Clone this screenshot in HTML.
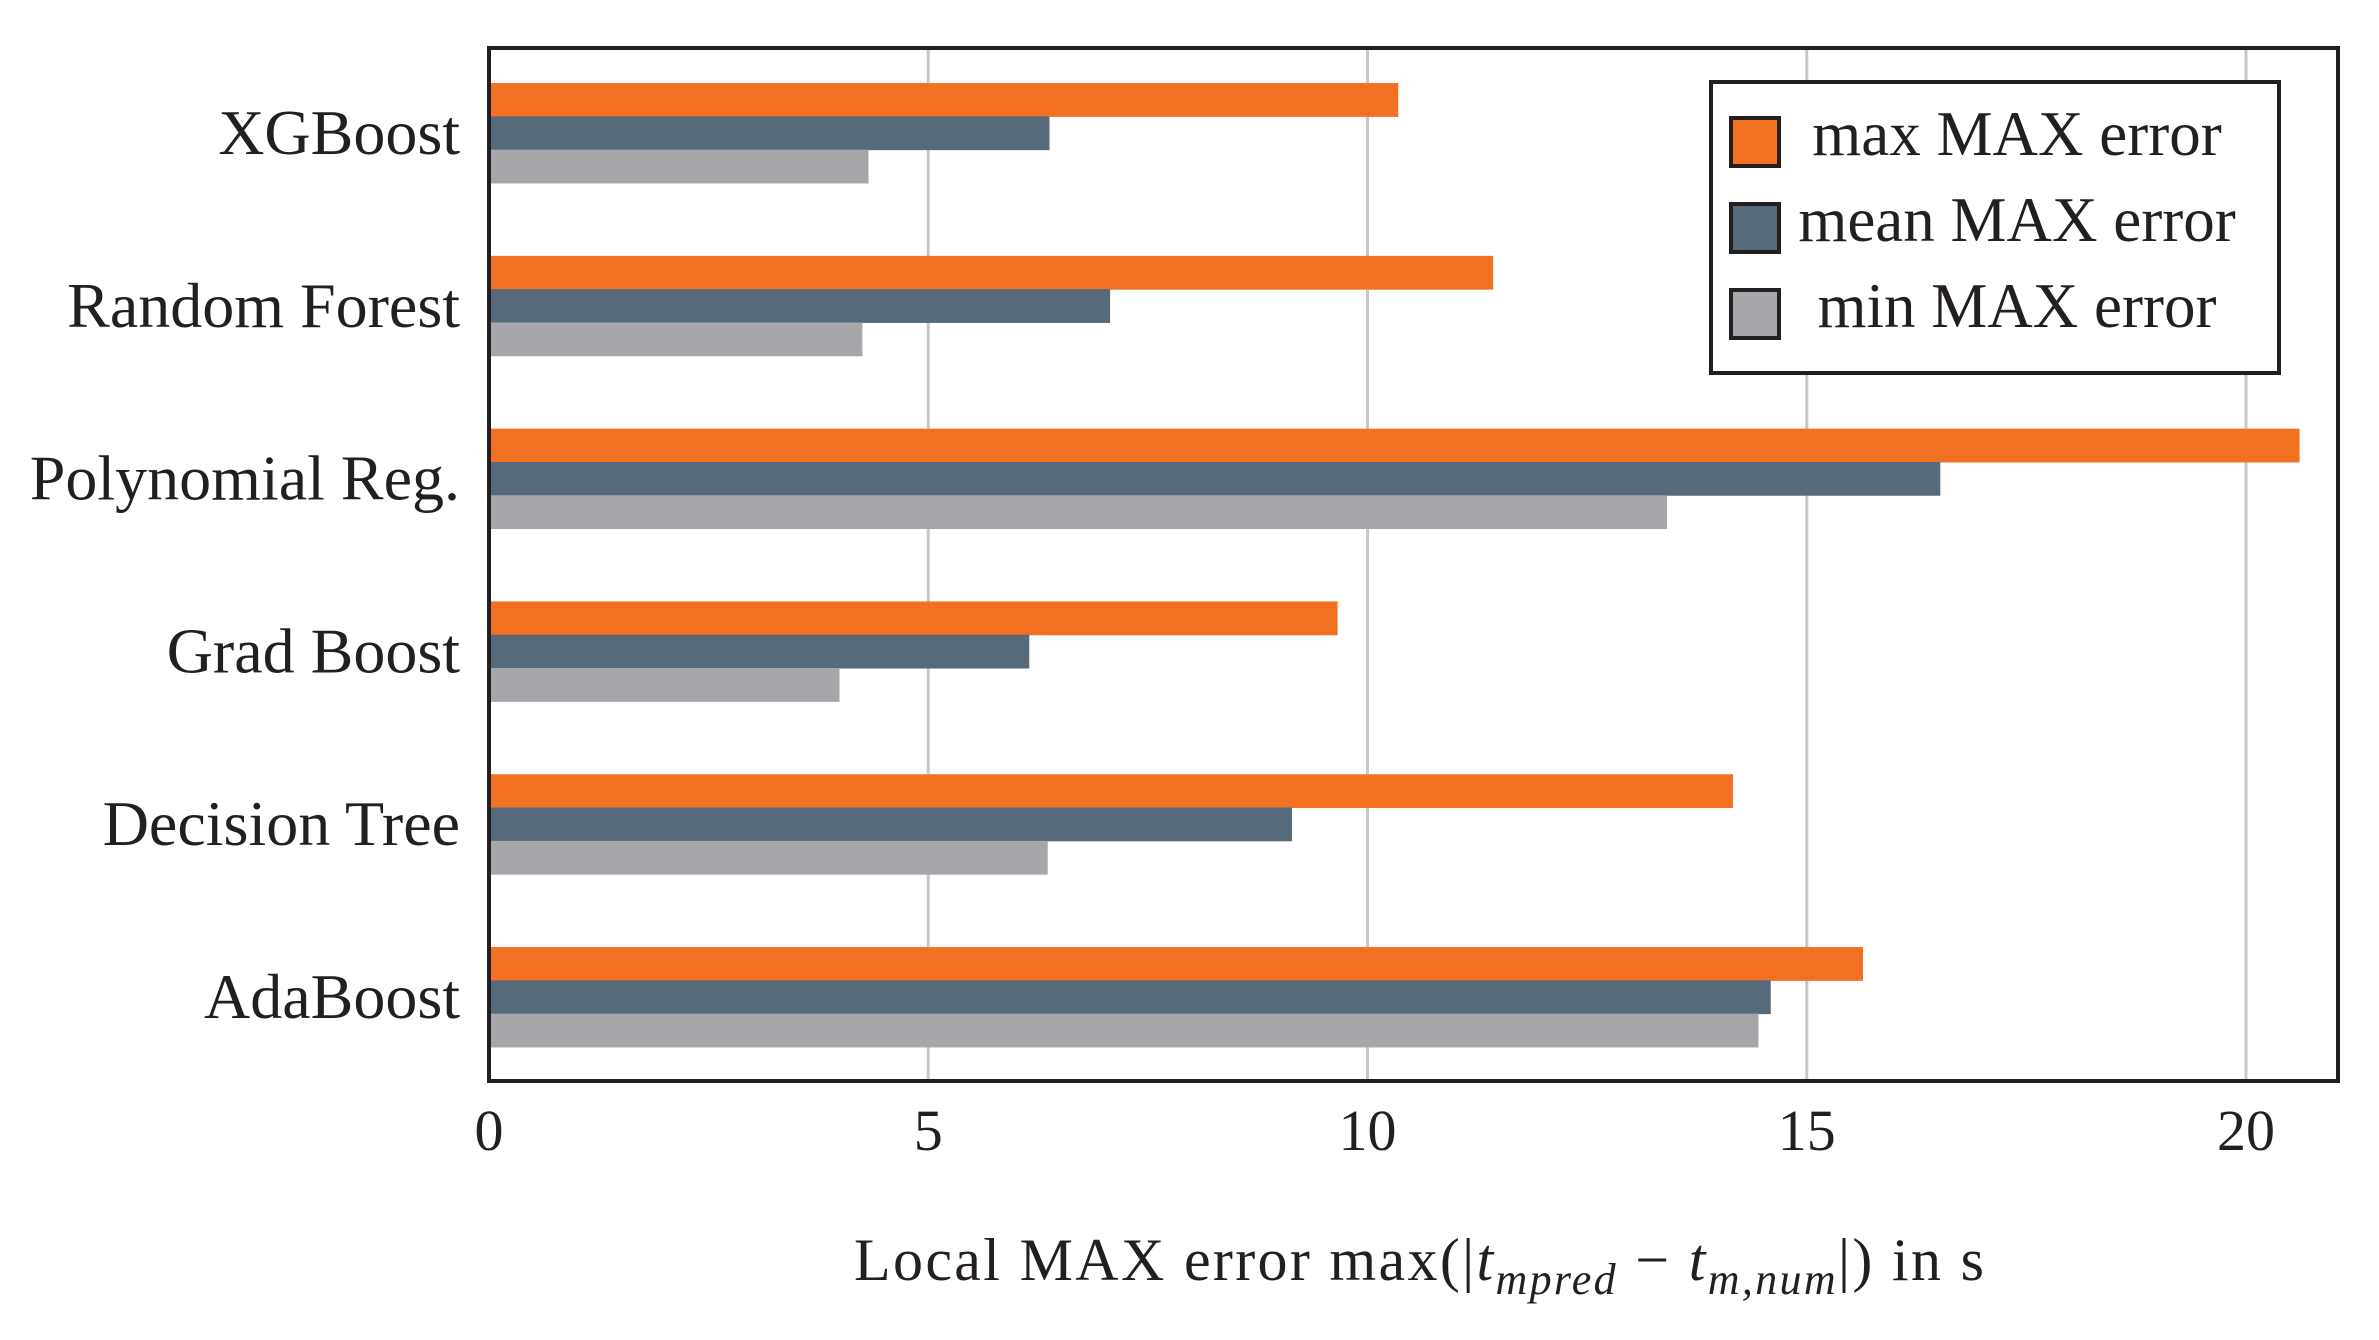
<!DOCTYPE html>
<html><head><meta charset="utf-8">
<style>
html,body{margin:0;padding:0;background:#fff;}
svg{display:block;}
text{font-family:"Liberation Serif",serif;fill:#231f20;}
</style></head>
<body>
<svg id="chart" width="2379" height="1340" viewBox="0 0 2379 1340" xmlns="http://www.w3.org/2000/svg">
<g id="grid"></g>
<g id="bars"></g>
<rect x="489" y="48" width="1849" height="1033" fill="none" stroke="#231f20" stroke-width="4"/>
<g id="ylabels"></g>
<g id="xticks"></g>
<text x="854" y="1280" font-size="60" textLength="1130" lengthAdjust="spacing">Local MAX error max(|<tspan font-style="italic">t</tspan><tspan font-style="italic" font-size="44" dy="14">mpred</tspan><tspan dy="-14"> − </tspan><tspan font-style="italic">t</tspan><tspan font-style="italic" font-size="44" dy="14">m,num</tspan><tspan dy="-14">|)   in s</tspan></text>
<g>
<rect x="1711" y="82" width="568" height="291" fill="#fff" stroke="#231f20" stroke-width="4"/>
<rect x="1731" y="118" width="48" height="48" fill="#f27022" stroke="#231f20" stroke-width="4"/>
<text x="2017" y="155" font-size="63" text-anchor="middle">max MAX error</text>
<rect x="1731" y="204" width="48" height="48" fill="#566a7a" stroke="#231f20" stroke-width="4"/>
<text x="2017" y="241" font-size="63" text-anchor="middle">mean MAX error</text>
<rect x="1731" y="290" width="48" height="48" fill="#a6a7aa" stroke="#231f20" stroke-width="4"/>
<text x="2017" y="327" font-size="63" text-anchor="middle">min MAX error</text>
</g>
</svg>
<script>
const categories = ["XGBoost","Random Forest","Polynomial Reg.","Grad Boost","Decision Tree","AdaBoost"];
const maxErr = [10.35, 11.43, 20.61, 9.66, 14.16, 15.64];
const meanErr = [6.38, 7.07, 16.52, 6.15, 9.14, 14.59];
const minErr = [4.32, 4.25, 13.41, 3.99, 6.36, 14.45];
const xTicks = [0, 5, 10, 15, 20];

const NS = "http://www.w3.org/2000/svg";
const x0 = 489, unit = 87.85;
const xs = v => x0 + v * unit;
const groupCenter = i => 133 + i * 172.8;
const barH = 33.3;

const grid = document.getElementById('grid');
const xt = document.getElementById('xticks');
xTicks.forEach(t => {
  if (t > 0) {
    const l = document.createElementNS(NS, 'line');
    
    
    l.setAttribute('x1', xs(t)); l.setAttribute('x2', xs(t));
    l.setAttribute('y1', 48); l.setAttribute('y2', 1081);
    l.setAttribute('stroke', '#c8c8c8'); l.setAttribute('stroke-width', '3');
    grid.appendChild(l);
  }
  const tx = document.createElementNS(NS, 'text');
  
  
  tx.setAttribute('x', xs(t)); tx.setAttribute('y', 1150);
  tx.setAttribute('font-size', '58'); tx.setAttribute('text-anchor', 'middle');
  tx.textContent = t;
  xt.appendChild(tx);
});

const bars = document.getElementById('bars');
const yl = document.getElementById('ylabels');
const series = [[maxErr, '#f27022', 'max'], [meanErr, '#566a7a', 'mean'], [minErr, '#a6a7aa', 'min']];
categories.forEach((c, i) => {
  const cy = groupCenter(i);
  series.forEach((s, k) => {
    const r = document.createElementNS(NS, 'rect');
    
    
    r.setAttribute('x', x0);
    r.setAttribute('y', cy - barH * 1.5 + k * barH);
    r.setAttribute('width', xs(s[0][i]) - x0);
    r.setAttribute('height', barH + 0.5);
    r.setAttribute('fill', s[1]);
    bars.appendChild(r);
  });
  const t = document.createElementNS(NS, 'text');
  
  
  t.setAttribute('x', 460); t.setAttribute('y', cy + 21);
  t.setAttribute('font-size', '64'); t.setAttribute('text-anchor', 'end');
  t.textContent = c;
  yl.appendChild(t);
});
</script>
</body></html>
